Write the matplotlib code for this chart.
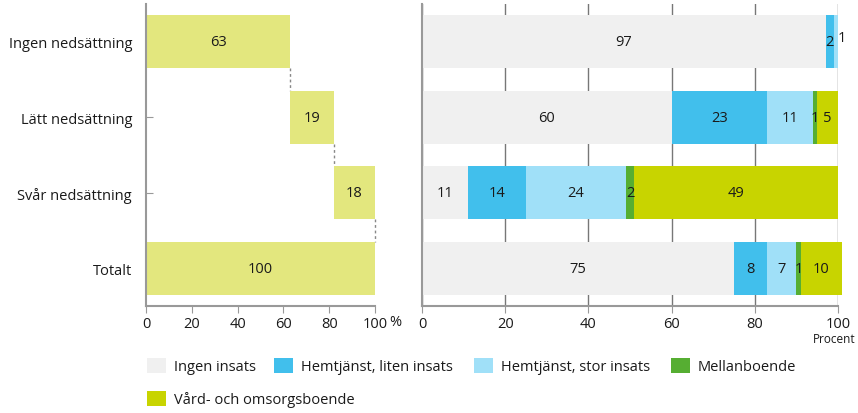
import matplotlib
matplotlib.use("Agg")
import matplotlib.pyplot as plt
from matplotlib.patches import Patch
import numpy as np

plt.rcParams['font.family'] = ['Open Sans', 'DejaVu Sans']

categories = ["Ingen nedsättning", "Lätt nedsättning", "Svår nedsättning", "Totalt"]
share = [63, 19, 18, 100]

series_names = ["Ingen insats", "Hemtjänst, liten insats", "Hemtjänst, stor insats",
                "Mellanboende", "Vård- och omsorgsboende"]
ingen = [97, 60, 11, 75]
liten = [2, 23, 14, 8]
stor = [1, 11, 24, 7]
mellan = [0, 1, 2, 1]
vard = [0, 5, 49, 10]
series = [ingen, liten, stor, mellan, vard]
colors = ["#f0f0f0", "#41bfec", "#a0e0f8", "#56ae32", "#c8d400"]
left_color = "#e3e77e"
xticks = [0, 20, 40, 60, 80, 100]

W, H = 858, 414
fig = plt.figure(figsize=(W/100, H/100), dpi=100)
axL = fig.add_axes([146/W, 1-307/H, (375-146)/W, 302/H])
axR = fig.add_axes([422/W, 1-307/H, (838-422)/W, 302/H])

y = np.arange(len(categories))
bh = 0.70
fs = 10.5
txtc = "#1a1a1a"
spc = "#999999"

# Left waterfall
starts = []
acc = 0
for i, v in enumerate(share):
    if categories[i] == "Totalt":
        starts.append(0)
    else:
        starts.append(acc)
        acc += v
for i, (s, v) in enumerate(zip(starts, share)):
    axL.barh(y[i], v, left=s, height=bh, color=left_color, zorder=2)
    axL.text(s + v/2, y[i], str(v), ha='center', va='center', fontsize=fs, color=txtc, zorder=3)
for i in range(len(share)-1):
    xe = starts[i] + share[i]
    axL.plot([xe, xe], [y[i] + bh/2, y[i+1] - bh/2], ls=(0, (2, 2)), color="#888888",
             lw=1, zorder=1, clip_on=False)

axL.set_xlim(0, 100)
axL.set_ylim(3.5, -0.5)
axL.set_yticks(y)
axL.set_yticklabels(categories, fontsize=fs, color=txtc)
axL.set_xticks(xticks)
axL.set_xticklabels([str(t) for t in xticks], fontsize=fs, color=txtc)
axL.tick_params(axis='y', direction='in', length=5, color=spc, pad=10)
axL.tick_params(axis='x', direction='out', length=5, color=spc, pad=2)
for s in ['top', 'right']:
    axL.spines[s].set_visible(False)
for s in ['left', 'bottom']:
    axL.spines[s].set_color(spc)
    axL.spines[s].set_linewidth(1.5)
axL.annotate("%", xy=(100, 0), xycoords=('data', 'axes fraction'),
             xytext=(10, -11), textcoords='offset points',
             ha='left', va='center', fontsize=fs, color=txtc)

# Right stacked bars
left = np.zeros(len(categories))
for k, (vals, c) in enumerate(zip(series, colors)):
    vals = np.array(vals, dtype=float)
    axR.barh(y, vals, left=left, height=bh, color=c, zorder=2, clip_on=False)
    for i, v in enumerate(vals):
        if v <= 0:
            continue
        cx = left[i] + v/2
        cy = y[i]
        if i == 0 and k == 2:
            cx = left[i] + v + 1.0
            cy = y[i] - 0.06
        axR.text(cx, cy, str(int(v)), ha='center', va='center', fontsize=fs, color=txtc, zorder=3)
    left += vals

axR.set_xlim(0, 100)
axR.set_ylim(3.5, -0.5)
axR.set_yticks(y)
axR.set_yticklabels([])
axR.set_xticks(xticks)
axR.set_xticklabels([str(t) for t in xticks], fontsize=fs, color=txtc)
axR.xaxis.grid(True, color="#777777", lw=1, zorder=0)
axR.set_axisbelow(True)
axR.tick_params(axis='y', direction='in', length=3, color=spc)
axR.tick_params(axis='x', direction='out', length=5, color=spc, pad=2)
for s in ['top', 'right']:
    axR.spines[s].set_visible(False)
for s in ['left', 'bottom']:
    axR.spines[s].set_color(spc)
    axR.spines[s].set_linewidth(1.5)
fig.text(856/W, 1-340/H, "Procent", ha='right', va='center', fontsize=8.5, color=txtc)

# Legend: one entry per legend, positioned like the reference
leg_x = [147, 274, 474, 671, 147]
leg_y = [367, 367, 367, 367, 400]
for name, c, lx, ly in zip(series_names, colors, leg_x, leg_y):
    lg = fig.legend([Patch(facecolor=c, edgecolor='none')], [name], loc='center left',
                    bbox_to_anchor=(lx/W, 1-ly/H), frameon=False, fontsize=fs,
                    handlelength=1.3, handleheight=1.3, handletextpad=0.55,
                    borderaxespad=0, borderpad=0)
    for t in lg.get_texts():
        t.set_color(txtc)

fig.savefig("out.png", dpi=100)
